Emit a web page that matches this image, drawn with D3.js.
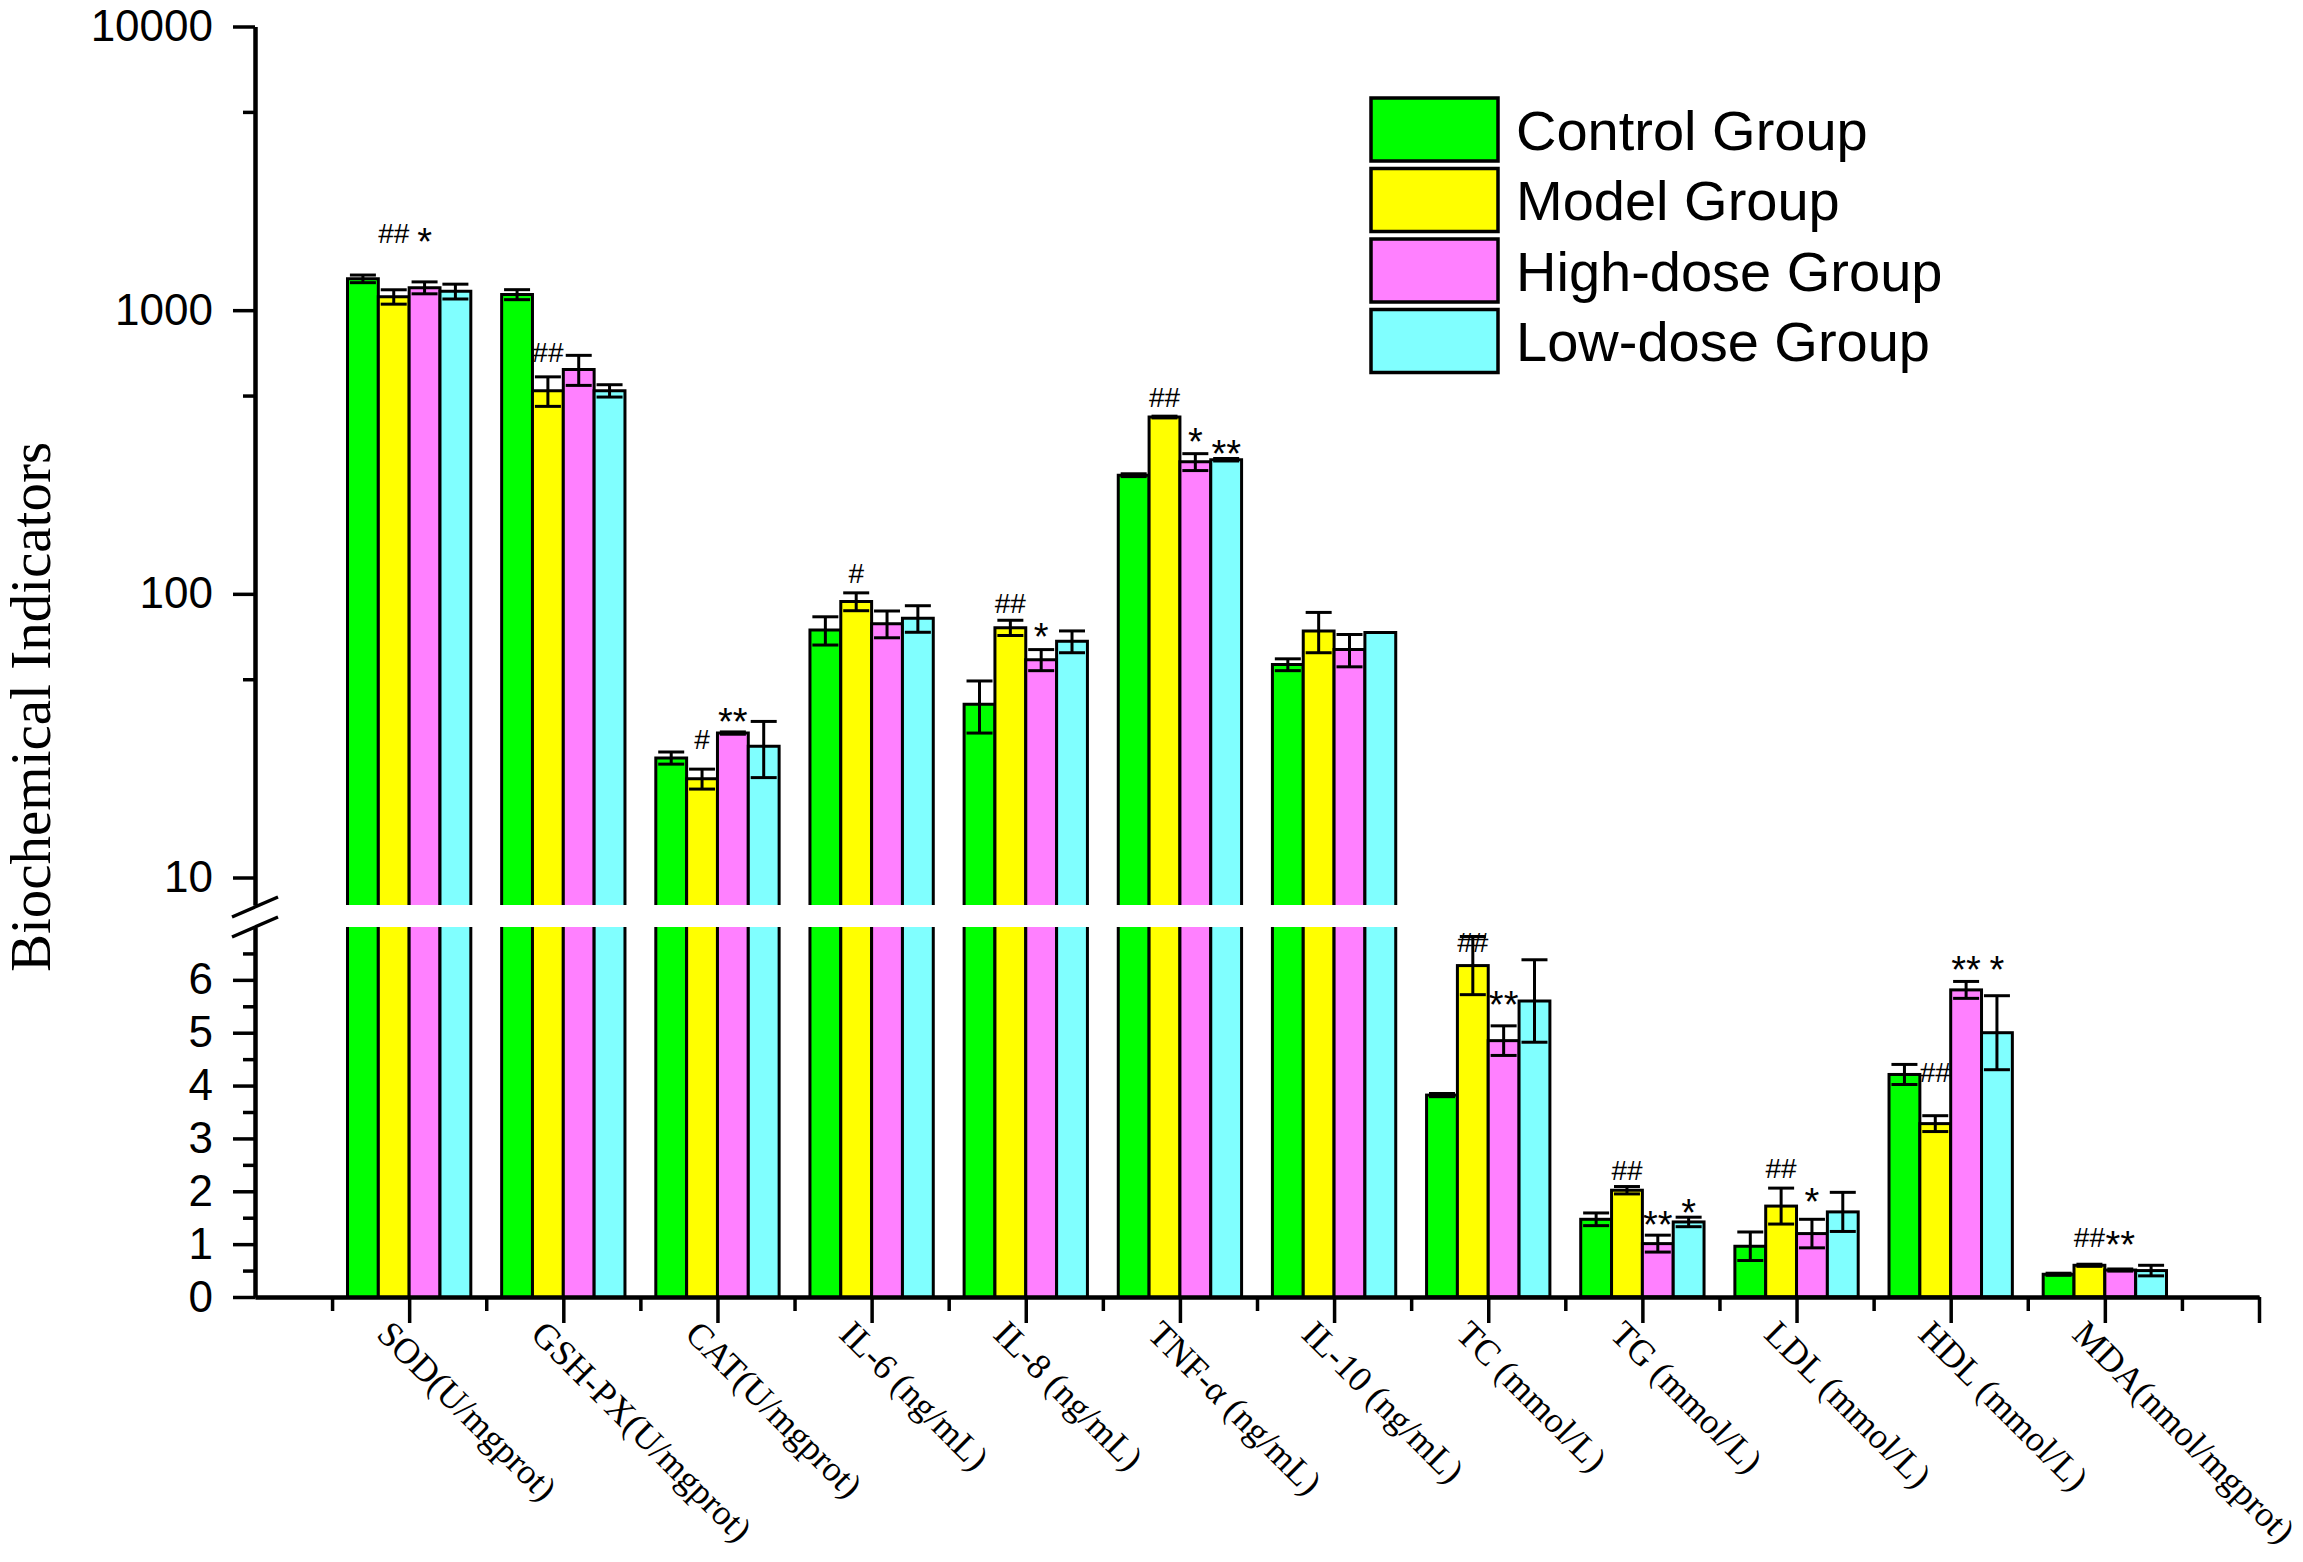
<!DOCTYPE html>
<html>
  <head>
    <meta charset="utf-8">
    <title>Biochemical Indicators</title>
    <script src="https://d3js.org/d3.v7.min.js"></script>
    <style>
      body { margin: 0; background: #fff; }
    </style>
  </head>
  <body>
    <div id="chart"></div>
    <script>
      // data
      var categories = ["SOD(U/mgprot)", "GSH-PX(U/mgprot)", "CAT(U/mgprot)", "IL-6 (ng/mL)", "IL-8 (ng/mL)",
        "TNF-α (ng/mL)", "IL-10 (ng/mL)", "TC (mmol/L)", "TG (mmol/L)", "LDL (mmol/L)", "HDL (mmol/L)", "MDA(nmol/mgprot)"];
      var groups = ["Control Group", "Model Group", "High-dose Group", "Low-dose Group"];

      var control    = [1290, 1135, 26.4, 74.5, 40.8, 262, 56.3, 3.82, 1.47, 0.96, 4.21, 0.43];
      var controlErr = [40, 46, 1.3, 8.5, 8.5, 3, 2.7, 0.03, 0.12, 0.27, 0.19, 0.02];
      var model      = [1115, 520, 22.3, 94, 76, 420, 74, 6.27, 2.02, 1.72, 3.28, 0.60];
      var modelErr   = [65, 62, 1.8, 6.8, 4.7, 3, 12, 0.55, 0.07, 0.34, 0.15, 0.02];
      var high       = [1200, 618, 32.3, 78.5, 58.6, 292, 63.6, 4.85, 1.01, 1.20, 5.81, 0.51];
      var highErr    = [58, 75, 0.3, 8.5, 5, 20, 8.3, 0.28, 0.16, 0.27, 0.16, 0.02];
      var low        = [1165, 520, 29, 82, 68, 297, 73, 5.6, 1.42, 1.61, 5.0, 0.50];
      var lowErr     = [70, 26, 6.5, 8.8, 6, 3, 0, 0.78, 0.09, 0.37, 0.7, 0.1];

      // significance marks: [category, group, text, level]
      var marks = [
        [0, 1, "##", 1870], [0, 2, "*", 1870],
        [1, 1, "##", 711],
        [2, 1, "#", 30.9], [2, 2, "**", 37.9],
        [3, 1, "#", 118],
        [4, 1, "##", 92.6], [4, 2, "*", 75.5],
        [5, 1, "##", 493], [5, 2, "*", 368], [5, 3, "**", 334],
        [7, 1, "##", 6.71], [7, 2, "**", 5.69],
        [8, 1, "##", 2.40], [8, 2, "**", 1.53], [8, 3, "*", 1.76],
        [9, 1, "##", 2.44], [9, 2, "*", 1.96],
        [10, 1, "##", 4.25], [10, 2, "**", 6.35], [10, 3, "*", 6.35],
        [11, 1, "##", 1.13], [11, 2, "**", 1.15]
      ];

      var upperTicks = [10, 100, 1000, 10000];
      var upperMinor = [50, 500, 5000];
      var lowerTicks = [0, 1, 2, 3, 4, 5, 6];
      var lowerMinor = [0.5, 1.5, 2.5, 3.5, 4.5, 5.5, 6.5];

      var values = [control, model, high, low];
      var errors = [controlErr, modelErr, highErr, lowErr];
      var colors = ["#00ff00", "#ffff00", "#ff80ff", "#80ffff"];

      var width = 2303, height = 1562;

      var svg = d3.select("#chart").append("svg")
        .attr("width", width)
        .attr("height", height)
        .style("font-family", "'Liberation Sans', Arial, sans-serif");

      var x = d3.scaleLinear().domain([0, categories.length + 1]).range([255, 2259]);
      var step = x(1) - x(0);
      var band = d3.scaleBand().domain(d3.range(groups.length)).range([-0.4 * step, 0.4 * step]);

      var yLow = d3.scaleLinear().domain([0, 7]).range([1297, 927]);
      var yHigh = d3.scaleLog().domain([8, 10000]).range([905, 26.5]);

      // a category goes to the log part when its values pass the break
      function isLog(i) {
        return d3.max(values, function(v) { return v[i]; }) > 7;
      }
      function yOf(v, i) {
        return isLog(i) ? yHigh(v) : yLow(v);
      }

      // bars
      var barG = svg.append("g");
      categories.forEach(function(c, i) {
        values.forEach(function(vals, g) {
          var x0 = x(i + 1) + band(g), x1 = x0 + band.bandwidth();
          var v = vals[i];
          if (isLog(i)) {
            barG.append("rect").attr("x", x0).attr("width", x1 - x0)
              .attr("y", yLow(7)).attr("height", yLow(0) - yLow(7))
              .attr("fill", colors[g]);
            barG.append("rect").attr("x", x0).attr("width", x1 - x0)
              .attr("y", yHigh(v)).attr("height", yHigh(8) - yHigh(v))
              .attr("fill", colors[g]);
            barG.append("path")
              .attr("d", "M" + x0 + "," + yHigh(8) + "V" + yHigh(v) + "H" + x1 + "V" + yHigh(8))
              .attr("fill", "none").attr("stroke", "#000").attr("stroke-width", 3);
            barG.append("path")
              .attr("d", "M" + x0 + "," + yLow(7) + "V" + yLow(0) + "M" + x1 + "," + yLow(7) + "V" + yLow(0))
              .attr("fill", "none").attr("stroke", "#000").attr("stroke-width", 3);
          } else {
            barG.append("rect").attr("x", x0).attr("width", x1 - x0)
              .attr("y", yLow(v)).attr("height", yLow(0) - yLow(v))
              .attr("fill", colors[g]).attr("stroke", "#000").attr("stroke-width", 3);
          }
        });
      });

      // error bars
      var errG = svg.append("g").attr("stroke", "#000").attr("stroke-width", 3);
      categories.forEach(function(c, i) {
        values.forEach(function(vals, g) {
          var e = errors[g][i];
          if (!e) return;
          var cx = x(i + 1) + band(g) + band.bandwidth() / 2;
          var top = yOf(vals[i] + e, i), bot = yOf(vals[i] - e, i);
          errG.append("line").attr("x1", cx).attr("x2", cx).attr("y1", top).attr("y2", bot);
          errG.append("line").attr("x1", cx - 13).attr("x2", cx + 13).attr("y1", top).attr("y2", top);
          errG.append("line").attr("x1", cx - 13).attr("x2", cx + 13).attr("y1", bot).attr("y2", bot);
        });
      });

      // significance marks
      svg.append("g").selectAll("text")
        .data(marks)
        .enter()
        .append("text")
        .attr("text-anchor", "middle")
        .attr("x", function(d) { return x(d[0] + 1) + band(d[1]) + band.bandwidth() / 2; })
        .attr("y", function(d) {
          return yOf(d[3], d[0]) + (d[2].indexOf("*") >= 0 ? 22 : 10);
        })
        .style("font-family", "'Liberation Sans', Arial, sans-serif")
        .style("font-size", function(d) { return d[2].indexOf("*") >= 0 ? "38px" : "28px"; })
        .text(function(d) { return d[2]; });

      // y axes
      function styleAxis(g) {
        g.select(".domain").attr("stroke-width", 4);
        g.selectAll(".tick line").attr("stroke-width", 3.5);
        g.selectAll(".tick text").style("font-size", "44px")
          .style("font-family", "'Liberation Sans', Arial, sans-serif").attr("fill", "#000");
      }

      svg.append("g").attr("transform", "translate(255,0)")
        .call(d3.axisLeft(yHigh).tickValues(upperTicks).tickFormat(d3.format("d"))
          .tickSize(22).tickSizeOuter(0).tickPadding(20))
        .call(styleAxis);
      svg.append("g").attr("transform", "translate(255,0)")
        .call(d3.axisLeft(yHigh).tickValues(upperMinor).tickFormat("").tickSize(12).tickSizeOuter(0))
        .call(styleAxis);
      svg.append("g").attr("transform", "translate(255,0)")
        .call(d3.axisLeft(yLow).tickValues(lowerTicks).tickFormat(d3.format("d"))
          .tickSize(22).tickSizeOuter(0).tickPadding(20))
        .call(styleAxis);
      svg.append("g").attr("transform", "translate(255,0)")
        .call(d3.axisLeft(yLow).tickValues(lowerMinor).tickFormat("").tickSize(12).tickSizeOuter(0))
        .call(styleAxis);

      // break marks
      var brk = svg.append("g").attr("stroke", "#000").attr("stroke-width", 3.5);
      [yHigh(8) + 2, yLow(7)].forEach(function(yy) {
        brk.append("line").attr("x1", 232).attr("y1", yy + 10).attr("x2", 278).attr("y2", yy - 10);
      });

      // x axis
      svg.append("g").attr("transform", "translate(0," + yLow(0) + ")")
        .call(d3.axisBottom(x).tickValues(d3.range(1, categories.length + 2)).tickFormat("")
          .tickSize(26).tickSizeOuter(0))
        .call(styleAxis);
      svg.append("g").attr("transform", "translate(0," + yLow(0) + ")")
        .call(d3.axisBottom(x).tickValues(d3.range(0.5, categories.length + 1, 1)).tickFormat("")
          .tickSize(14).tickSizeOuter(0))
        .call(styleAxis);

      svg.append("g").selectAll("text")
        .data(categories)
        .enter()
        .append("text")
        .attr("transform", function(d, i) {
          return "translate(" + (x(i + 1) - 34) + ",1336) rotate(45)";
        })
        .style("font-family", "'Liberation Serif', 'Times New Roman', serif")
        .style("font-size", "36px")
        .text(function(d) { return d; });

      // y title
      svg.append("text")
        .attr("transform", "translate(50,707) rotate(-90)")
        .attr("text-anchor", "middle")
        .style("font-family", "'Liberation Serif', 'Times New Roman', serif")
        .style("font-size", "57px")
        .text("Biochemical Indicators");

      // legend
      var legend = svg.append("g").selectAll("g")
        .data(groups)
        .enter()
        .append("g")
        .attr("transform", function(d, i) { return "translate(1371," + (98 + i * 70.5) + ")"; });

      legend.append("rect")
        .attr("width", 127)
        .attr("height", 63)
        .attr("fill", function(d, i) { return colors[i]; })
        .attr("stroke", "#000")
        .attr("stroke-width", 3.5);

      legend.append("text")
        .attr("x", 145)
        .attr("y", 31.5 + 20)
        .style("font-size", "56px")
        .text(function(d) { return d; });
    </script>
  </body>
</html>
